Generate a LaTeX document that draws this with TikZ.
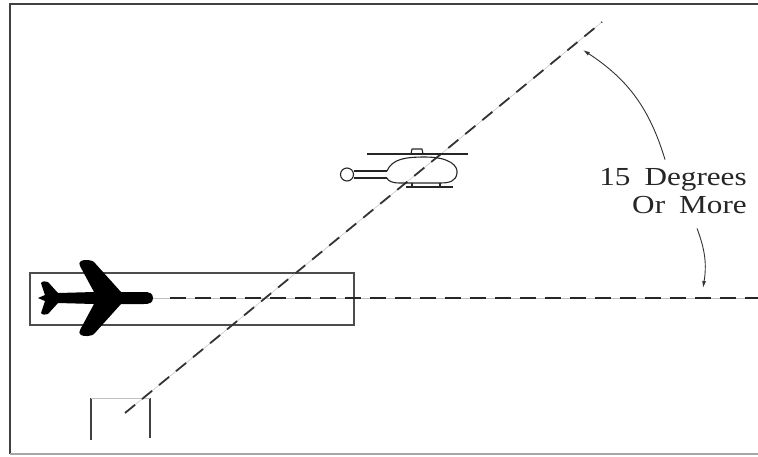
\documentclass[tikz,border=0pt]{standalone}
\usepackage{fontspec}
\setmainfont{Liberation Serif}
\usepackage{tikz}
\usetikzlibrary{
  positioning,
  calc,
  arrows.meta
}
\tikzstyle{frame}=[line width=1.6pt, black!75]
\tikzstyle{runway}=[line width=1.1pt, black!70]
\tikzstyle{guide}=[line width=0.5pt, black!25]
\tikzstyle{cline}=[line width=2.8pt, black!85, dash pattern=on 16pt off 9pt]
\tikzstyle{fline}=[line width=1.8pt, black!80, dash pattern=on 13pt off 9pt]
\tikzstyle{heli}=[line width=1.1pt, black!85, line join=round]
\tikzstyle{callout}=[->, >={Latex[length=7pt,width=4pt]}, line width=0.9pt, black!80]

\begin{document}
\begin{tikzpicture}[x=1pt, y=-1pt]
  \useasboundingbox (0,0) rectangle (758,456);

  % よく使う点の座標
  \coordinate (nose) at (153,298);
  \coordinate (hend) at (758,298);
  \coordinate (fstart) at (125,413);
  \coordinate (fend) at (602,22);
  \coordinate (tipA) at (583,50);
  \coordinate (tipB) at (703,288);

  % 枠
  \draw[frame] (758,4) -- (10,4) -- (10,454);
  \draw[frame, black!35, line width=1.2pt] (10,454) -- (758,454);

  % 滑走路
  \draw[runway] (30,273) rectangle (354,325);

  % ヘリポート
  \draw[line width=1.6pt, black!75] (91,440) -- (91,398);
  \draw[line width=1.6pt, black!75] (150,438) -- (150,398);
  \draw[guide, line width=0.8pt] (91,398) -- (150,398);

  % 中心線
  \draw[guide] (nose) -- (hend);
  \draw[cline] ($(nose)+(17,0)$) -- (hend);

  % 進入経路
  \draw[guide] (fstart) -- (fend);
  \draw[fline] (fstart) -- (fend);

  % 飛行機
  \fill[black] (nose) .. controls (153,293) and (149,292) .. (144,292)
    -- (121,292) -- (94,262) .. controls (92,260) and (84,259) .. (81,261)
    .. controls (79,262) and (79,264) .. (80,266)
    -- (94,292) -- (58,293) -- (48,282) .. controls (46,281) and (42,281) .. (41,283)
    -- (45,295) -- (38,298)
    -- (45,301) -- (41,313) .. controls (42,315) and (46,315) .. (48,314)
    -- (58,303) -- (94,304)
    -- (80,330) .. controls (79,332) and (79,334) .. (81,335)
    .. controls (84,337) and (92,336) .. (94,334)
    -- (121,304) -- (144,304) .. controls (149,304) and (153,303) .. cycle;

  % ヘリコプター
  \draw[heli] (367,154) -- (468,154);
  \draw[heli] (411,154) -- (412,149) -- (422,149) -- (423,154);
  \draw[heli] (387,171) .. controls (392,159) and (405,157) .. (425,157)
    .. controls (450,157) and (458,166) .. (457,173)
    .. controls (456,181) and (450,183) .. (440,183) -- (400,183)
    .. controls (392,183) and (388,181) .. (387,178);
  \draw[heli] (347,174.5) circle (6.5);
  \draw[heli] (353.5,171) -- (387,171) (353.5,178) -- (387,178);
  \draw[heli] (406,187) -- (453,187);
  \draw[heli] (412,183) -- (412,187) (440,183) -- (440,187);

  % 角度のラベル
  \node[font=\fontsize{26}{28}\selectfont, align=right, inner sep=0pt,
        xscale=1.2, anchor=base east, black!85] (angtxt) at (747,213)
        {15\hspace{0.45em}Degrees\\Or\hspace{0.45em}More};

  % 矢印
  \draw[callout] ([xshift=-8pt, yshift=8pt]angtxt.north) to[bend right=20] (tipA);
  \draw[callout] ([xshift=24pt, yshift=-15pt]angtxt.south) to[bend left=15] (tipB);
\end{tikzpicture}
\end{document}
